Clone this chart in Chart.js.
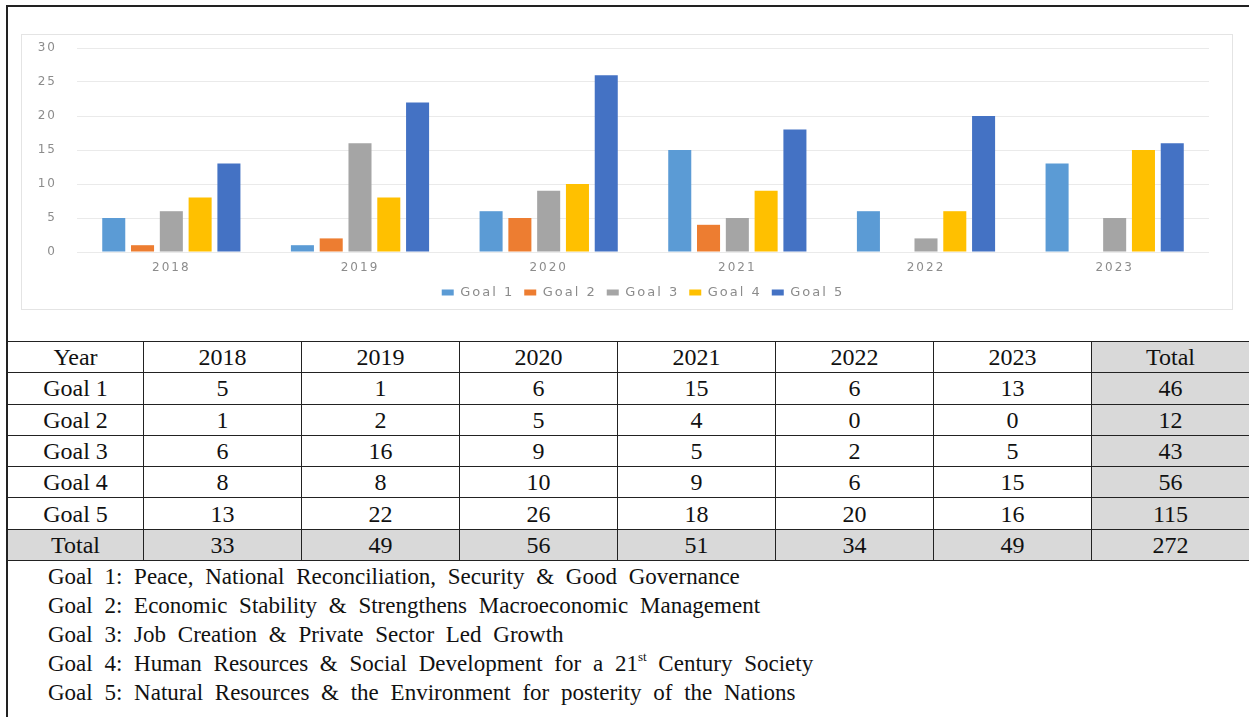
<!DOCTYPE html>
<html>
<head>
<meta charset="utf-8">
<script src="https://cdn.jsdelivr.net/npm/chart.js@4.4.1/dist/chart.umd.min.js"></script>
<style>
html,body{margin:0;padding:0;background:#fff;overflow:hidden;width:1249px;height:717px;}
#frameTop{position:absolute;left:6px;top:5px;width:1243px;height:2px;background:#222;}
#frameLeft{position:absolute;left:6px;top:5px;width:2px;height:712px;background:#222;}
#panel{position:absolute;left:21px;top:34px;width:1212px;height:276px;box-sizing:border-box;border:1px solid #e4e4e4;}
#chart{position:absolute;left:21px;top:34px;}
#tbl{position:absolute;left:7px;top:341px;border-collapse:collapse;table-layout:fixed;font-family:"Liberation Serif","Times New Roman",serif;font-size:24px;color:#111;}
#tbl td{border:1px solid #222;text-align:center;vertical-align:middle;padding:0;height:30.3px;line-height:26px;}
#tbl td.g{background:#d9d9d9;}
#notes{position:absolute;left:48px;top:562px;font-family:"Liberation Serif","Times New Roman",serif;font-size:23px;line-height:29px;color:#111;word-spacing:6px;white-space:nowrap;}
#notes div{height:29px;}
#notes sup{font-size:13px;line-height:0;vertical-align:0;position:relative;top:-10px;word-spacing:0;}
</style>
</head>
<body>
<div id="frameTop"></div>
<div id="frameLeft"></div>
<div id="panel"></div>
<canvas id="chart" width="1212" height="276"></canvas>
<table id="tbl"></table>
<div id="notes"></div>
<script>
// ---- data ----
const years = ['2018', '2019', '2020', '2021', '2022', '2023'];
const goalNames = ['Goal 1', 'Goal 2', 'Goal 3', 'Goal 4', 'Goal 5'];
const goal1 = [5, 1, 6, 15, 6, 13];
const goal2 = [1, 2, 5, 4, 0, 0];
const goal3 = [6, 16, 9, 5, 2, 5];
const goal4 = [8, 8, 10, 9, 6, 15];
const goal5 = [13, 22, 26, 18, 20, 16];
const yMin = 0, yMax = 30, yStep = 5;
const goalColors = ['#5B9BD5', '#ED7D31', '#A5A5A5', '#FFC000', '#4472C4'];
const noteTexts = [
  'Goal 1: Peace, National Reconciliation, Security &amp; Good Governance',
  'Goal 2: Economic Stability &amp; Strengthens Macroeconomic Management',
  'Goal 3: Job Creation &amp; Private Sector Led Growth',
  'Goal 4: Human Resources &amp; Social Development for a 21<sup>st</sup> Century Society',
  'Goal 5: Natural Resources &amp; the Environment for posterity of the Nations'
];

const series = [goal1, goal2, goal3, goal4, goal5];

// ---- chart ----
const LS = '2px';
const spacing = {
  id: 'letterSpacer',
  beforeLayout(c) { c.ctx.letterSpacing = LS; },
  beforeDraw(c) { c.ctx.letterSpacing = LS; }
};
const txt = '#8c8c8c';
const tickFont = { family: 'DejaVu Sans', size: 12 };
new Chart(document.getElementById('chart'), {
  type: 'bar',
  data: {
    labels: years,
    datasets: series.map((d, i) => ({
      label: goalNames[i], data: d, backgroundColor: goalColors[i], borderWidth: 0,
      categoryPercentage: 0.763, barPercentage: 0.8
    }))
  },
  options: {
    responsive: false, animation: false, devicePixelRatio: 1,
    layout: { padding: { left: 6, right: 24, top: 14, bottom: 1 } },
    plugins: {
      tooltip: { enabled: false },
      legend: {
        position: 'bottom', fullSize: false,
        labels: { color: txt, boxWidth: 12, boxHeight: 6, padding: 10,
          font: { family: 'DejaVu Sans', size: 13 } }
      }
    },
    scales: {
      x: {
        grid: { display: false, drawTicks: false }, border: { display: false },
        ticks: { color: txt, padding: 9, font: tickFont },
        afterFit(s) { s.height = 24; }
      },
      y: {
        min: yMin, max: yMax,
        grid: { color: '#eaeaea', drawTicks: true, tickLength: 16, tickColor: 'rgba(0,0,0,0)' },
        border: { display: false },
        ticks: { color: txt, padding: 4, stepSize: yStep, font: tickFont },
        afterFit(s) { s.width = 50; }
      }
    }
  },
  plugins: [spacing]
});

// ---- table ----
const tbl = document.getElementById('tbl');
const colW = [136, 158, 158, 158, 158, 158, 158, 158];
let html = '<colgroup>' + colW.map(w => `<col style="width:${w}px">`).join('') + '</colgroup>';
html += '<tr><td>Year</td>' + years.map(y => `<td>${y}</td>`).join('') + '<td class="g">Total</td></tr>';
const colTotals = years.map(() => 0);
let grand = 0;
series.forEach((d, i) => {
  const s = d.reduce((a, b) => a + b, 0);
  grand += s;
  d.forEach((v, j) => colTotals[j] += v);
  html += `<tr><td>${goalNames[i]}</td>` + d.map(v => `<td>${v}</td>`).join('') + `<td class="g">${s}</td></tr>`;
});
html += '<tr><td class="g">Total</td>' + colTotals.map(v => `<td class="g">${v}</td>`).join('') + `<td class="g">${grand}</td></tr>`;
tbl.innerHTML = html;
tbl.style.width = colW.reduce((a, b) => a + b, 0) + 'px';

// ---- notes ----
document.getElementById('notes').innerHTML = noteTexts.map(t => `<div>${t}</div>`).join('');
</script>
</body>
</html>
